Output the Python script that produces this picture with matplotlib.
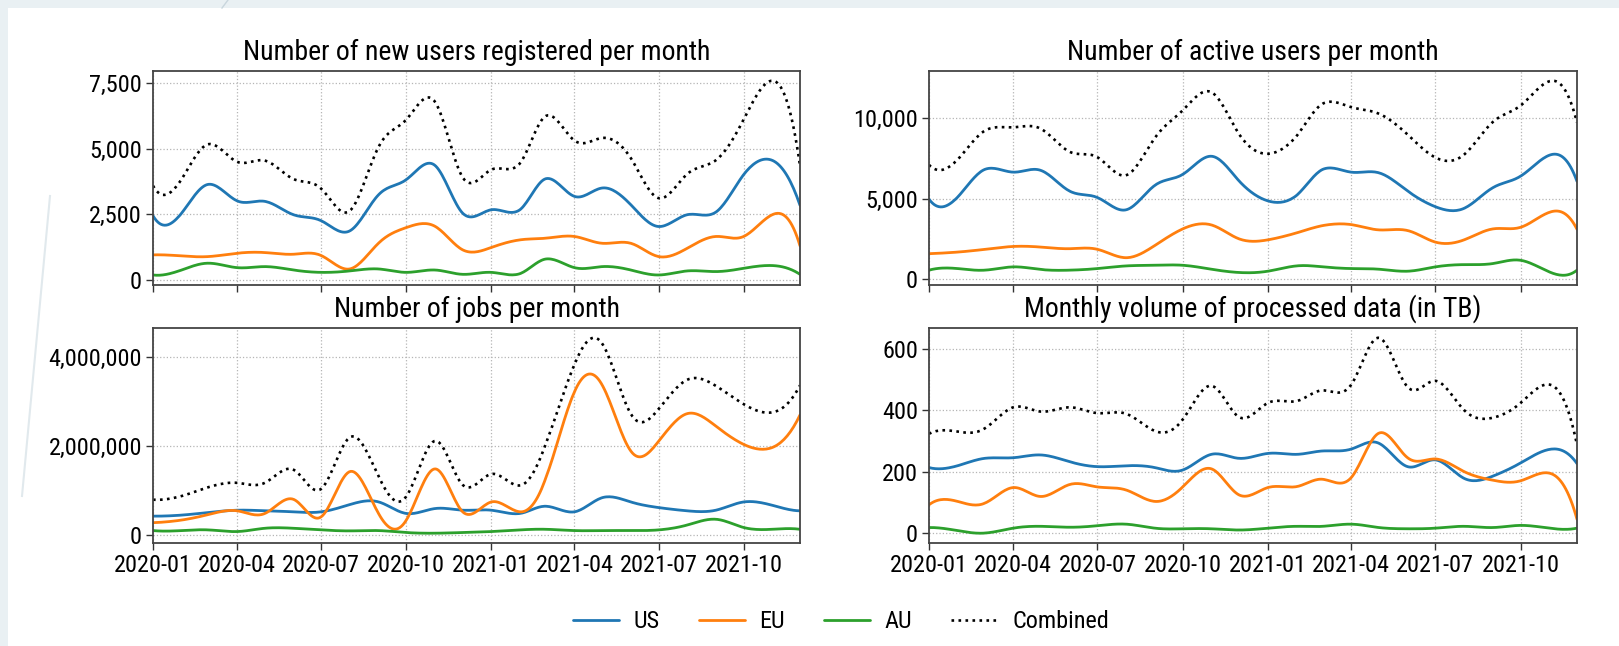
import numpy as np
import matplotlib
matplotlib.use("Agg")
import matplotlib.pyplot as plt
import matplotlib.dates as mdates
from matplotlib import font_manager
from matplotlib.lines import Line2D
from matplotlib.patches import Rectangle
from matplotlib.ticker import FuncFormatter, MultipleLocator

# ---------------------------------------------------------------- data
months = np.arange("2020-01", "2022-01", dtype="datetime64[M]")

regions = ["US", "EU", "AU"]
region_colors = ["#1f77b4", "#ff7f0e", "#2ca02c"]

new_users_us = [2450, 2550, 3650, 3020, 3000, 2490, 2260, 1875, 3250, 3830, 4375, 2550,
                2680, 2680, 3865, 3190, 3510, 2870, 2040, 2490, 2590, 4020, 4565, 2850]
new_users_eu = [957, 918, 893, 1020, 1046, 982, 931, 421, 1403, 2000, 2050, 1150,
                1240, 1530, 1595, 1660, 1400, 1400, 893, 1210, 1660, 1660, 2490, 1300]
new_users_au = [190, 380, 640, 470, 510, 380, 290, 345, 420, 290, 380, 215,
                290, 240, 800, 470, 510, 380, 190, 345, 320, 445, 550, 215]

active_us = [4970, 5100, 6815, 6650, 6755, 5470, 5070, 4310, 5830, 6510, 7640, 6100,
             4865, 5200, 6815, 6650, 6610, 5480, 4500, 4400, 5680, 6400, 7700, 6080]
active_eu = [1580, 1680, 1850, 2030, 1990, 1890, 1850, 1330, 2090, 3120, 3370, 2500,
             2440, 2870, 3325, 3390, 3060, 3020, 2300, 2440, 3120, 3220, 4150, 3100]
active_au = [555, 655, 555, 760, 595, 555, 655, 820, 860, 860, 615, 410,
             490, 820, 760, 655, 615, 490, 760, 900, 965, 1170, 450, 555]

jobs_us = [420e3, 443e3, 502e3, 553e3, 540e3, 517e3, 517e3, 680e3, 740e3, 480e3, 590e3, 553e3,
           553e3, 480e3, 642e3, 517e3, 834e3, 738e3, 612e3, 539e3, 553e3, 738e3, 664e3, 539e3]
jobs_eu = [273e3, 332e3, 457e3, 540e3, 480e3, 797e3, 406e3, 1420e3, 480e3, 330e3, 1480e3, 517e3,
           738e3, 517e3, 1280e3, 3210e3, 3360e3, 1880e3, 2100e3, 2720e3, 2440e3, 2030e3, 1960e3, 2690e3]
jobs_au = [96e3, 96e3, 111e3, 74e3, 148e3, 148e3, 111e3, 89e3, 96e3, 52e3, 37e3, 52e3,
           74e3, 111e3, 125e3, 96e3, 96e3, 96e3, 111e3, 221e3, 350e3, 165e3, 125e3, 125e3]

volume_us = [213, 219, 243, 245, 254, 232, 216, 219, 213, 205, 256, 243,
             259, 256, 267, 273, 292, 216, 238, 178, 185, 228, 272, 226]
volume_eu = [92, 103, 97, 148, 119, 158, 150, 140, 103, 150, 209, 124,
             148, 151, 175, 180, 325, 245, 241, 200, 172, 170, 195, 45]
volume_au = [18, 8, 0, 16, 22, 19, 24, 29, 16, 14, 14, 10,
             16, 22, 22, 29, 18, 14, 16, 22, 18, 25, 16, 16]

panels = [
    ("Number of new users registered per month", [new_users_us, new_users_eu, new_users_au], 2500),
    ("Number of active users per month", [active_us, active_eu, active_au], 5000),
    ("Number of jobs per month", [jobs_us, jobs_eu, jobs_au], 2_000_000),
    ("Monthly volume of processed data (in TB)", [volume_us, volume_eu, volume_au], 200),
]


# ---------------------------------------------------------------- helpers
def smooth(values, n=400):
    """Not-a-knot cubic spline through evenly spaced monthly values."""
    y = np.asarray(values, dtype=float)
    m = len(y)
    a = np.zeros((m, m))
    b = np.zeros(m)
    a[0, 0:3] = [1, -2, 1]
    a[-1, -3:] = [1, -2, 1]
    for i in range(1, m - 1):
        a[i, i - 1:i + 2] = [1, 4, 1]
        b[i] = 6 * (y[i + 1] - 2 * y[i] + y[i - 1])
    c = np.linalg.solve(a, b)
    xs = np.linspace(0, m - 1, n)
    k = np.minimum(xs.astype(int), m - 2)
    t = xs - k
    ys = (c[k] * (1 - t) ** 3 + c[k + 1] * t ** 3) / 6 \
        + (y[k] - c[k] / 6) * (1 - t) + (y[k + 1] - c[k + 1] / 6) * t
    return xs, ys


def pick_font():
    entries = font_manager.fontManager.ttflist
    names = {f.name for f in entries}
    for cand in ("Liberation Sans Narrow", "DejaVu Sans Condensed",
                 "Roboto Condensed", "Open Sans Condensed"):
        if cand in names:
            return cand, "normal", 1.0
    for f in entries:
        if f.name == "DejaVu Sans" and str(f.stretch) in ("condensed", "semi-condensed"):
            return "DejaVu Sans", "condensed", 0.85
    return "DejaVu Sans", "normal", 0.75


family, stretch, fscale = pick_font()
plt.rcParams["font.family"] = [family, "DejaVu Sans"]
plt.rcParams["font.stretch"] = stretch

title_size = 20 * fscale
tick_size = 17.5 * fscale
legend_size = 17.5 * fscale

# ---------------------------------------------------------------- figure
W, H = 1619, 646
fig = plt.figure(figsize=(W / 100, H / 100), dpi=100)
fig.patch.set_facecolor("#e9f0f3")
fig.add_artist(Rectangle((8 / W, 0), 1, 1 - 8 / H, transform=fig.transFigure,
                         facecolor="white", edgecolor="none", zorder=-10))
fig.add_artist(Line2D([228 / W, 222 / W], [1, 1 - 8 / H], transform=fig.transFigure,
                      color="#c9d6dd", lw=1.0, zorder=-5))
fig.add_artist(Line2D([50 / W, 22 / W], [1 - 196 / H, 1 - 496 / H], transform=fig.transFigure,
                      color="#e1e9ed", lw=1.5, zorder=-5))

cols = [(153, 800), (929, 1577)]
rows = [(71, 285), (328, 543)]

month_num = mdates.date2num(months.astype("datetime64[D]"))
idx = np.arange(len(months))

axes = []
for r, (y0, y1) in enumerate(rows):
    for c, (x0, x1) in enumerate(cols):
        rect = [x0 / W, 1 - y1 / H, (x1 - x0) / W, (y1 - y0) / H]
        ax = fig.add_axes(rect, sharex=axes[0] if axes else None)
        axes.append(ax)

for ax, (title, series, step) in zip(axes, panels):
    combined = np.sum(np.asarray(series, dtype=float), axis=0)
    for vals, name, col in zip(series, regions, region_colors):
        xs, ys = smooth(vals)
        ax.plot(np.interp(xs, idx, month_num), ys, color=col, lw=2.0, label=name,
                solid_capstyle="round")
    xs, ys = smooth(combined)
    ax.plot(np.interp(xs, idx, month_num), ys, color="black", lw=1.9, ls=":",
            label="Combined")

    ax.set_title(title, fontsize=title_size, pad=8)
    ax.yaxis.set_major_locator(MultipleLocator(step))
    ax.yaxis.set_major_formatter(FuncFormatter(lambda v, p: f"{v:,.0f}"))
    ax.grid(True, ls=":", color="#b5b5b5", lw=0.9)
    ax.tick_params(labelsize=tick_size, length=5, width=1.0, color="#333333", pad=3)
    for sp in ax.spines.values():
        sp.set_color("#444444")
        sp.set_linewidth(1.3)

axes[0].set_xlim(month_num[0], month_num[-1])
axes[0].xaxis.set_major_locator(mdates.MonthLocator(bymonth=[1, 4, 7, 10]))
axes[0].xaxis.set_major_formatter(mdates.DateFormatter("%Y-%m"))
for ax in axes[:2]:
    ax.tick_params(labelbottom=False)

handles, labels = axes[0].get_legend_handles_labels()
fig.legend(handles, labels, loc="center", bbox_to_anchor=(841 / W, 1 - 622 / H), ncol=4,
           frameon=False, fontsize=legend_size, handlelength=1.9,
           handletextpad=0.6, columnspacing=1.6)

fig.savefig("out.png", dpi=100, facecolor=fig.get_facecolor())
